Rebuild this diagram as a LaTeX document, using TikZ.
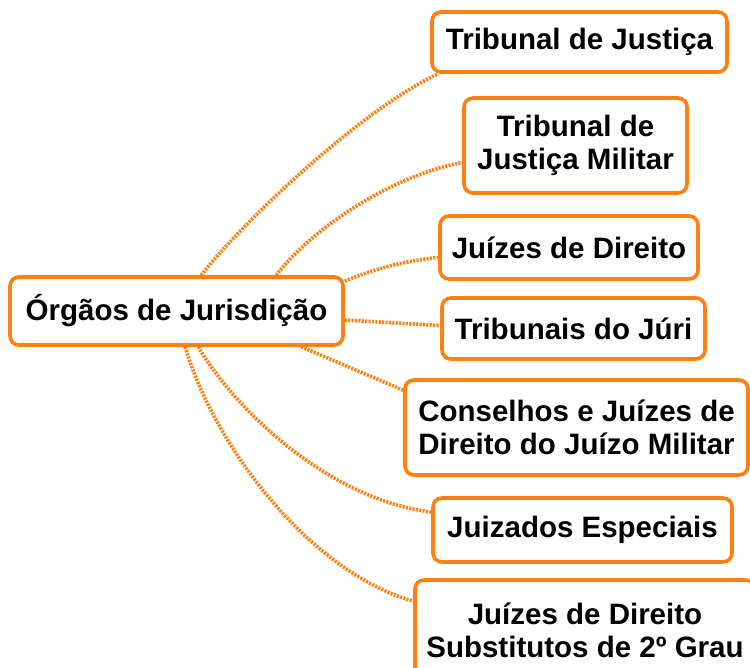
\documentclass[tikz,border=0pt]{standalone}
\usepackage{fontspec}
\setmainfont{Liberation Sans}
\usetikzlibrary{calc,backgrounds}
\definecolor{org}{RGB}{255,127,15}
\begin{document}
\begin{tikzpicture}[x=1pt,y=-1pt,
  box/.style={draw=org,line width=3.6pt,rounded corners=9pt,fill=white,align=center,
    inner sep=0pt,font=\fontsize{29.5}{33}\selectfont\bfseries,text=black},
  link/.style={draw=org,line width=3.6pt,dash pattern=on 2.1pt off 1.3pt}]
\clip (0,0) rectangle (750,668);
\node[box,minimum width=333pt,minimum height=68pt] (c) at (176.5,311) {Órgãos de Jurisdição};
\node[box,minimum width=295pt,minimum height=60pt] (t1) at (579.5,42) {Tribunal de Justiça};
\node[box,minimum width=223pt,minimum height=95pt] (t2) at (575.5,145.5) {Tribunal de\\Justiça Militar};
\node[box,minimum width=258pt,minimum height=63pt] (t3) at (569,247.5) {Juízes de Direito};
\node[box,minimum width=263pt,minimum height=61pt] (t4) at (573.5,328.5) {Tribunais do Júri};
\node[box,minimum width=343pt,minimum height=95pt] (t5) at (576.5,427.5) {Conselhos e Juízes de\\Direito do Juízo Militar};
\node[box,minimum width=299pt,minimum height=64pt] (t6) at (582.5,530) {Juizados Especiais};
\node[box,minimum width=340pt,minimum height=100pt] (t7) at (585,630) {Juízes de Direito\\Substitutos de 2º Grau};
\begin{scope}[on background layer]
\draw[link] ($(c.north west)+(193,0)$) .. controls (240,225) and (360,110) .. ($(t1.south west)+(8,0)$);
\draw[link] ($(c.north west)+(268,0)$) .. controls (315,225) and (395,175) .. ($(t2.west)+(0,17)$);
\draw[link] ($(c.north east)+(0,6)$) .. controls (375,268) and (410,260) .. ($(t3.west)+(0,10)$);
\draw[link] ($(c.east)+(0,9)$) -- ($(t4.west)+(0,-3)$);
\draw[link] ($(c.south west)+(293,0)$) -- ($(t5.north west)+(0,12)$);
\draw[link] ($(c.south west)+(190,0)$) .. controls (235,410) and (330,500) .. ($(t6.west)+(0,-18)$);
\draw[link] ($(c.south west)+(177,0)$) .. controls (212,440) and (305,570) .. ($(t7.north west)+(0,23)$);
\end{scope}
\end{tikzpicture}
\end{document}
